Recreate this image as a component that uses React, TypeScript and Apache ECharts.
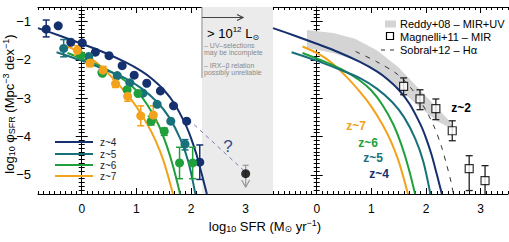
import React, { useEffect, useRef } from 'react';
import * as echarts from 'echarts';

const FONT = '"Liberation Sans", Arial, "DejaVu Sans", sans-serif';
const NAVY = '#15306e';
const TEAL = '#18707a';
const GREEN = '#1fa03a';
const ORANGE = '#f2a21b';

const X_MIN = -0.8, X_MAX = 3.5, Y_MIN = -5.5, Y_MAX = -0.62;
const xTicks = [0, 1, 2, 3];
const yTicks = [-5, -4, -3, -2, -1];

// Schechter fit curves
const z4CurveX = [-0.8, -0.4, 0, 0.4, 0.8, 1.1, 1.3, 1.5, 1.7, 1.9, 2.0, 2.1, 2.2, 2.29];
const z4CurveY = [-1.17, -1.37, -1.58, -1.8, -2.06, -2.3, -2.51, -2.78, -3.15, -3.69, -4.04, -4.47, -5.0, -5.5];
const z5CurveX = [-0.46, 0, 0.4, 0.8, 1.1, 1.38, 1.6, 1.8, 1.95, 2.08];
const z5CurveY = [-1.8, -2.02, -2.24, -2.48, -2.75, -3.1, -3.5, -4.05, -4.65, -5.5];
const z6CurveX = [-0.26, 0.2, 0.5, 0.77, 1.0, 1.2, 1.4, 1.55, 1.68, 1.8];
const z6CurveY = [-1.82, -2.08, -2.28, -2.52, -2.8, -3.17, -3.68, -4.22, -4.82, -5.5];
const z7CurveX = [-0.26, 0, 0.25, 0.55, 0.8, 1.0, 1.2, 1.35, 1.5, 1.67];
const z7CurveY = [-1.65, -1.82, -2.05, -2.45, -2.85, -3.22, -3.68, -4.1, -4.65, -5.5];

// data points
const z4X = [-0.65, -0.43, -0.2, 0.01, 0.25, 0.5, 0.74, 0.96, 1.19, 1.44, 1.68, 1.92, 2.16];
const z4Y = [-1.2, -1.11, -1.54, -1.56, -1.8, -1.89, -2.15, -2.4, -2.61, -2.81, -3.2, -3.6, -4.67];
const z4ErrX = [-0.65, 2.16];
const z4ErrLo = [-1.4, -5.12];
const z4ErrHi = [-0.96, -4.22];

const z5X = [-0.33, 0.13, 0.37, 0.65, 0.88, 1.12, 1.38, 1.63, 1.89];
const z5Y = [-1.7, -1.91, -2.33, -2.41, -2.6, -2.87, -3.16, -3.6, -4.2];
const z5ErrX = [-0.33, 1.89];
const z5ErrLo = [-1.92, -4.35];
const z5ErrHi = [-1.47, -4.08];

const z6X = [-0.02, 0.38, 0.83, 1.03, 1.27, 1.51, 1.79, 2.03];
const z6Y = [-1.88, -2.35, -2.78, -2.88, -3.6, -3.86, -4.69, -4.69];
const z6ErrX = [1.27, 1.51, 1.79, 2.03];
const z6ErrLo = [-3.7, -3.97, -5.1, -5.1];
const z6ErrHi = [-3.47, -3.78, -4.28, -4.28];

const z7X = [-0.08, 0.15, 0.39, 0.62, 0.84, 1.08, 1.31];
const z7Y = [-1.75, -2.08, -2.27, -2.62, -2.95, -3.46, -3.44];
const z7ErrLo = [-1.88, -2.18, -2.37, -2.72, -3.08, -3.72, -3.62];
const z7ErrHi = [-1.63, -1.98, -2.17, -2.5, -2.82, -3.2, -3.2];

const hlX = [3.0];
const hlY = [-4.97];
const hlErrHi = [-4.75];
const hlArrowTo = [-5.32];

const shadeX = [2.2, 3.5];
const shadeLineTo = -2.47;
const guessX = [1.95, 2.96];
const guessY = [-3.55, -4.88];

// right panel
const reddyX = [-0.18, 0.3, 0.7, 1.1, 1.5, 1.9, 2.2, 2.42, 2.5];
const reddyUp = [-1.22, -1.3, -1.45, -1.75, -2.2, -2.8, -3.25, -3.58, -3.78];
const reddyLo = [-1.69, -1.82, -2.0, -2.3, -2.75, -3.25, -3.6, -3.76, -3.8];
const sobralX = [0.71, 1.1, 1.48, 1.75, 2.0, 2.15, 2.28, 2.38, 2.46, 2.5];
const sobralY = [-1.78, -2.05, -2.38, -2.78, -3.32, -3.75, -4.25, -4.75, -5.2, -5.5];
const magX = [1.59, 1.89, 2.18, 2.48, 2.79, 3.08];
const magY = [-2.69, -3.02, -3.27, -3.85, -4.84, -5.15];
const magLo = [-2.91, -3.3, -3.56, -4.11, -5.41, -5.6];
const magHi = [-2.47, -2.78, -3.02, -3.59, -4.5, -4.76];

const zip = (a: number[], b: number[]) => a.map((v, i) => [v, b[i]]);

function xAxes(grid: number) {
  const res: any[] = [];
  for (const pos of ['bottom', 'top']) {
    res.push({
      gridIndex: grid, type: 'value', min: X_MIN, max: X_MAX, position: pos,
      splitLine: { show: false },
      axisLine: { show: true, lineStyle: { color: '#000', width: 1 } },
      axisTick: { show: true, inside: true, length: 6, customValues: xTicks, lineStyle: { color: '#000' } },
      axisLabel: pos === 'bottom'
        ? { show: true, customValues: xTicks, color: '#000', fontSize: 12, fontFamily: FONT, margin: 9 }
        : { show: false },
    });
    res.push({
      gridIndex: grid, type: 'value', min: X_MIN, max: X_MAX, position: pos, interval: 0.1,
      splitLine: { show: false }, axisLine: { show: false },
      axisTick: { show: true, inside: true, length: 3, lineStyle: { color: '#000' } },
      axisLabel: { show: false },
    });
  }
  return res;
}

function yAxes(grid: number) {
  const res: any[] = [];
  for (const pos of ['left', 'right']) {
    res.push({
      gridIndex: grid, type: 'value', min: Y_MIN, max: Y_MAX, position: pos,
      splitLine: { show: false },
      axisLine: { show: true, lineStyle: { color: '#000', width: 1 } },
      axisTick: { show: true, inside: true, length: 6, customValues: yTicks, lineStyle: { color: '#000' } },
      axisLabel: grid === 0 && pos === 'left'
        ? { show: true, customValues: yTicks, color: '#000', fontSize: 13, fontFamily: FONT, margin: 7,
            formatter: (v: number) => '\u2212' + Math.abs(v) }
        : { show: false },
    });
    res.push({
      gridIndex: grid, type: 'value', min: Y_MIN, max: Y_MAX, position: pos, interval: 0.1,
      splitLine: { show: false }, axisLine: { show: false },
      axisTick: { show: true, inside: true, length: 3, lineStyle: { color: '#000' } },
      axisLabel: { show: false },
    });
  }
  return res;
}

function curve(xs: number[], ys: number[], color: string, ai: number, extra: any = {}) {
  return {
    type: 'line', xAxisIndex: ai, yAxisIndex: ai, data: zip(xs, ys), showSymbol: false,
    smooth: 0.3, clip: true, silent: true, z: 4,
    lineStyle: { color, width: 2 }, ...extra,
  };
}

function dots(xs: number[], ys: number[], color: string, ai: number) {
  return {
    type: 'scatter', xAxisIndex: ai, yAxisIndex: ai, data: zip(xs, ys), symbol: 'circle', symbolSize: 9,
    itemStyle: { color, opacity: 1 }, silent: true, z: 6,
  };
}

function errBars(xs: number[], lo: number[], hi: number[], color: string, ai: number, cap = 3.5, w = 1.5) {
  return {
    type: 'custom', xAxisIndex: ai, yAxisIndex: ai, silent: true, z: 5, clip: true,
    data: xs.map((x, i) => [x, lo[i], hi[i]]),
    encode: { x: 0, y: [1, 2] },
    renderItem: (_p: any, api: any) => {
      const a = api.coord([api.value(0), api.value(1)]);
      const b = api.coord([api.value(0), api.value(2)]);
      const st = { stroke: color, lineWidth: w };
      return {
        type: 'group', children: [
          { type: 'line', shape: { x1: a[0], y1: a[1], x2: b[0], y2: b[1] }, style: st },
          { type: 'line', shape: { x1: a[0] - cap, y1: a[1], x2: a[0] + cap, y2: a[1] }, style: st },
          { type: 'line', shape: { x1: b[0] - cap, y1: b[1], x2: b[0] + cap, y2: b[1] }, style: st },
        ],
      };
    },
  };
}

export default function App() {
  const ref = useRef<HTMLDivElement>(null);
  useEffect(() => {
    const chart = echarts.init(ref.current!, null, { renderer: 'svg' });
    const rich = {
      n: { fontSize: 13, fontFamily: FONT, color: '#000', lineHeight: 15 },
      s: { fontSize: 9, fontFamily: FONT, color: '#000', verticalAlign: 'bottom', lineHeight: 9 },
      p: { fontSize: 9, fontFamily: FONT, color: '#000', verticalAlign: 'top', lineHeight: 9 },
    };
    const smallTxt = (text: string, x: number, y: number) => ({
      type: 'text', x, y, z: 100, style: { text, fontSize: 7, fontFamily: FONT, fill: '#8a8a8a', verticalAlign: 'middle' },
    });
    const legLine = (y: number, color: string, label: string) => [
      { type: 'line', z: 100, shape: { x1: 55, y1: y, x2: 93, y2: y }, style: { stroke: color, lineWidth: 2 } },
      { type: 'text', z: 100, x: 100, y, style: { text: label, fontSize: 10, fontFamily: FONT, fill: '#222', verticalAlign: 'middle' } },
    ];
    const zLab = (text: string, x: number, y: number, color: string) => ({
      type: 'text', x, y, z: 100, style: { text, fontSize: 12, fontWeight: 'bold', fontFamily: FONT, fill: color, align: 'center', verticalAlign: 'middle' },
    });

    const option: any = {
      animation: false,
      grid: [
        { left: 38, top: 7, width: 235, height: 187 },
        { left: 273, top: 7, width: 235, height: 187 },
      ],
      xAxis: [...xAxes(0), ...xAxes(1)],
      yAxis: [...yAxes(0), ...yAxes(1)],
      series: [
        // gray region
        {
          type: 'custom', xAxisIndex: 0, yAxisIndex: 0, silent: true, z: 1, data: [[shadeX[0], shadeX[1]]],
          encode: { x: [0, 1] },
          renderItem: (_p: any, api: any) => {
            const a = api.coord([api.value(0), Y_MAX]);
            const b = api.coord([api.value(1), Y_MIN]);
            const c = api.coord([api.value(0), shadeLineTo]);
            return {
              type: 'group', children: [
                { type: 'rect', shape: { x: a[0], y: a[1], width: b[0] - a[0], height: b[1] - a[1] }, style: { fill: '#ebebeb' } },
                { type: 'line', shape: { x1: a[0], y1: a[1], x2: c[0], y2: c[1] }, style: { stroke: '#8a8a8a', lineWidth: 1 } },
              ],
            };
          },
        },
        curve(guessX, guessY, '#6a7bb0', 0, { smooth: false, lineStyle: { color: '#7080b0', width: 1, type: [4, 4] }, z: 2 }),
        curve(z7CurveX, z7CurveY, ORANGE, 0),
        curve(z6CurveX, z6CurveY, GREEN, 0),
        curve(z5CurveX, z5CurveY, TEAL, 0),
        curve(z4CurveX, z4CurveY, NAVY, 0),
        errBars(z7X, z7ErrLo, z7ErrHi, ORANGE, 0),
        errBars(z6ErrX, z6ErrLo, z6ErrHi, GREEN, 0),
        errBars(z5ErrX, z5ErrLo, z5ErrHi, TEAL, 0),
        errBars(z4ErrX, z4ErrLo, z4ErrHi, NAVY, 0),
        dots(z4X, z4Y, NAVY, 0),
        dots(z5X, z5Y, TEAL, 0),
        dots(z6X, z6Y, GREEN, 0),
        dots(z7X, z7Y, ORANGE, 0),
        // upper-limit point
        {
          type: 'custom', xAxisIndex: 0, yAxisIndex: 0, silent: true, z: 5,
          data: hlX.map((x, i) => [x, hlY[i], hlErrHi[i], hlArrowTo[i]]),
          encode: { x: 0, y: [1, 2, 3] },
          renderItem: (_p: any, api: any) => {
            const top = api.coord([api.value(0), api.value(2)]);
            const bot = api.coord([api.value(0), api.value(3)]);
            const st = { stroke: '#999', lineWidth: 1.2, fill: 'none' };
            return {
              type: 'group', children: [
                { type: 'line', shape: { x1: top[0], y1: top[1], x2: bot[0], y2: bot[1] }, style: st },
                { type: 'line', shape: { x1: top[0] - 3, y1: top[1], x2: top[0] + 3, y2: top[1] }, style: st },
                { type: 'polyline', shape: { points: [[bot[0] - 4, bot[1] - 7], [bot[0], bot[1]], [bot[0] + 4, bot[1] - 7]] }, style: st },
              ],
            };
          },
        },
        { type: 'scatter', xAxisIndex: 0, yAxisIndex: 0, data: zip(hlX, hlY), symbolSize: 9, itemStyle: { color: '#000' }, silent: true, z: 6 },

        // right panel
        {
          type: 'custom', xAxisIndex: 4, yAxisIndex: 4, silent: true, z: 1, data: [[reddyX[0], reddyUp[0]]],
          renderItem: (_p: any, api: any) => {
            const pts = [
              ...reddyX.map((x, i) => api.coord([x, reddyUp[i]])),
              ...reddyX.map((x, i) => api.coord([x, reddyLo[i]])).reverse(),
            ];
            return { type: 'polygon', shape: { points: pts }, style: { fill: '#d4d4d4' } };
          },
        },
        curve(sobralX, sobralY, '#333', 4, { lineStyle: { color: '#333', width: 1, type: [5, 6] }, z: 3 }),
        curve(z7CurveX, z7CurveY, ORANGE, 4),
        curve(z6CurveX, z6CurveY, GREEN, 4),
        curve(z5CurveX, z5CurveY, TEAL, 4),
        curve(z4CurveX, z4CurveY, NAVY, 4),
        errBars(magX, magLo, magHi, '#222', 4, 3.5, 1.3),
        {
          type: 'scatter', xAxisIndex: 4, yAxisIndex: 4, data: zip(magX, magY), symbol: 'rect', symbolSize: 8,
          itemStyle: { color: '#fff', borderColor: '#000', borderWidth: 1.2 }, silent: true, z: 6,
        },
      ],
      graphic: [
        // axis titles
        {
          type: 'text', x: 265, y: 226, z: 100,
          style: { text: '{n|log}{s|10}{n| SFR (M}{s|\u2299}{n| yr}{p|\u22121}{n|)}', rich, align: 'center', verticalAlign: 'middle' },
        },
        {
          type: 'text', x: 9, y: 104, z: 100, rotation: Math.PI / 2,
          style: { text: '{n|log}{s|10}{n| \u03c6}{s|SFR}{n| (Mpc}{p|\u22123}{n| dex}{p|\u22121}{n|)}', rich, align: 'center', verticalAlign: 'middle' },
        },
        // left legend
        ...legLine(142, NAVY, 'z~4'),
        ...legLine(154, TEAL, 'z~5'),
        ...legLine(165, GREEN, 'z~6'),
        ...legLine(176, ORANGE, 'z~7'),
        // gray region annotations
        { type: 'line', z: 100, shape: { x1: 202, y1: 17.5, x2: 243, y2: 17.5 }, style: { stroke: '#444', lineWidth: 1.2 } },
        { type: 'polyline', z: 100, shape: { points: [[237, 14.5], [243, 17.5], [237, 20.5]] }, style: { stroke: '#444', lineWidth: 1.2, fill: 'none' } },
        {
          type: 'text', x: 207, y: 33, z: 100,
          style: {
            text: '{n|> 10}{p|12}{n| L}{s|\u2299}',
            rich: {
              n: { fontSize: 13, fontFamily: FONT, color: '#222', lineHeight: 16 },
              p: { fontSize: 8, fontFamily: FONT, color: '#222', verticalAlign: 'top', lineHeight: 9 },
              s: { fontSize: 8, fontFamily: FONT, color: '#222', verticalAlign: 'bottom', lineHeight: 9 },
            },
            verticalAlign: 'middle',
          },
        },
        smallTxt('\u2013 UV\u2013selections', 204, 45),
        smallTxt('may be incomplete', 204, 52),
        smallTxt('\u2013 IRX\u2013\u03b2 relation', 204, 65),
        smallTxt('possibly unreliable', 204, 72),
        { type: 'text', z: 100, x: 228, y: 146, style: { text: '?', fontSize: 17, fontFamily: FONT, fill: '#3a4a8a', align: 'center', verticalAlign: 'middle' } },
        // right panel labels
        zLab('z~2', 461, 108, '#000'),
        zLab('z~7', 356, 126, ORANGE),
        zLab('z~6', 368, 143, GREEN),
        zLab('z~5', 373, 158, TEAL),
        zLab('z~4', 379, 174, NAVY),
        // right legend
        { type: 'rect', z: 100, shape: { x: 385, y: 20.5, width: 11, height: 7 }, style: { fill: '#d4d4d4' } },
        { type: 'rect', z: 100, shape: { x: 386.5, y: 32.5, width: 7, height: 7 }, style: { fill: '#fff', stroke: '#000', lineWidth: 1.2 } },
        { type: 'line', z: 100, shape: { x1: 381, y1: 50, x2: 385, y2: 50 }, style: { stroke: '#333', lineWidth: 1 } },
        { type: 'line', z: 100, shape: { x1: 390, y1: 50, x2: 394, y2: 50 }, style: { stroke: '#333', lineWidth: 1 } },
        { type: 'text', z: 100, x: 400, y: 24, style: { text: 'Reddy+08 \u2013 MIR+UV', fontSize: 11, fontFamily: FONT, fill: '#000', verticalAlign: 'middle' } },
        { type: 'text', z: 100, x: 400, y: 36.5, style: { text: 'Magnelli+11 \u2013 MIR', fontSize: 11, fontFamily: FONT, fill: '#000', verticalAlign: 'middle' } },
        { type: 'text', z: 100, x: 400, y: 50, style: { text: 'Sobral+12 \u2013 H\u03b1', fontSize: 11, fontFamily: FONT, fill: '#000', verticalAlign: 'middle' } },
      ],
    };
    chart.setOption(option);
    return () => chart.dispose();
  }, []);
  return <div ref={ref} style={{ position: 'absolute', left: 0, top: 0, width: 509, height: 242, background: '#fff' }} />;
}
